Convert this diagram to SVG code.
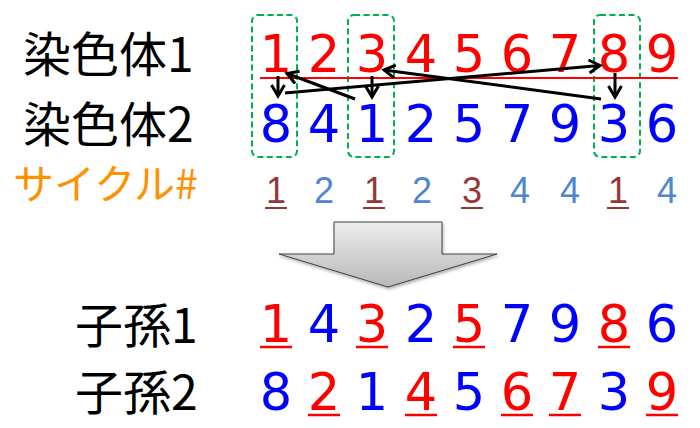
<svg xmlns="http://www.w3.org/2000/svg" width="700" height="428" viewBox="0 0 700 428">
<style>
.lbl{font-family:"Noto Sans CJK JP","Noto Sans",sans-serif;font-size:48px;fill:#000}
.cyc{font-family:"Noto Sans CJK JP","Noto Sans",sans-serif;font-size:41px;fill:#FF9000}
.d{font-family:"DejaVu Sans",sans-serif;font-size:51px;text-anchor:middle}
.r{fill:#FF0000}
.b{fill:#0000FF}
.c{font-family:"Liberation Sans",sans-serif;font-size:36px;text-anchor:middle}
.cr{fill:#953735}
.cb{fill:#4F86D2}
.ul{stroke:#FF0000;stroke-width:2.5}
.cul{stroke:#953735;stroke-width:2}
.box{fill:none;stroke:#00B050;stroke-width:2;stroke-dasharray:6,3.5}
.arr{fill:none;stroke:#000;stroke-width:3;marker-end:url(#ah)}
</style>
<defs>
<marker id="ah" markerUnits="userSpaceOnUse" viewBox="0 0 16 16" markerWidth="16" markerHeight="16" refX="13" refY="8" orient="auto">
<path d="M2,1.5 L13,8 L2,14.5" fill="none" stroke="#000" stroke-width="3"/>
</marker>
<linearGradient id="g" x1="0" y1="0" x2="0" y2="1">
<stop offset="0" stop-color="#EDEDED"/>
<stop offset="1" stop-color="#B8B8B8"/>
</linearGradient>
<filter id="sh" x="-10%" y="-10%" width="120%" height="130%">
<feDropShadow dx="1" dy="2" stdDeviation="1.5" flood-color="#000" flood-opacity="0.3"/>
</filter>
</defs>

<g id="labels">
<text class="lbl" x="23" y="72">染色体1</text>
<text class="lbl" x="23" y="142">染色体2</text>
<text class="cyc" x="13" y="199">サイクル#</text>
<text class="lbl" x="75" y="343">子孫1</text>
<text class="lbl" x="75" y="410">子孫2</text>
</g>

<g id="boxes">
<rect class="box" x="252" y="15" width="45" height="142" rx="6"/>
<rect class="box" x="348" y="15" width="46" height="142" rx="6"/>
<rect class="box" x="594" y="15" width="46" height="142" rx="6"/>
</g>

<line id="redline" x1="260" y1="78" x2="678" y2="78" stroke="#FF0000" stroke-width="2"/>

<g id="chromosome1">
<text class="d r" x="276" y="72">1</text>
<text class="d r" x="324" y="72">2</text>
<text class="d r" x="372" y="72">3</text>
<text class="d r" x="421" y="72">4</text>
<text class="d r" x="469" y="72">5</text>
<text class="d r" x="517" y="72">6</text>
<text class="d r" x="565" y="72">7</text>
<text class="d r" x="614" y="72">8</text>
<text class="d r" x="662" y="72">9</text>
</g>

<g id="chromosome2">
<text class="d b" x="276" y="142">8</text>
<text class="d b" x="324" y="142">4</text>
<text class="d b" x="372" y="142">1</text>
<text class="d b" x="421" y="142">2</text>
<text class="d b" x="469" y="142">5</text>
<text class="d b" x="517" y="142">7</text>
<text class="d b" x="565" y="142">9</text>
<text class="d b" x="614" y="142">3</text>
<text class="d b" x="662" y="142">6</text>
</g>

<g id="connectors">
<line class="arr" x1="278" y1="76" x2="278" y2="96"/>
<line class="arr" x1="372" y1="76" x2="372" y2="97"/>
<line class="arr" x1="615" y1="73" x2="615" y2="97"/>
<line class="arr" x1="355" y1="99" x2="287" y2="73.5"/>
<line class="arr" x1="601" y1="99" x2="384" y2="70"/>
<line class="arr" x1="285" y1="93" x2="600" y2="65.5"/>
</g>

<g id="cycles">
<text class="c cr" x="276" y="203">1</text>
<text class="c cb" x="324" y="203">2</text>
<text class="c cr" x="374" y="203">1</text>
<text class="c cb" x="422" y="203">2</text>
<text class="c cr" x="472" y="203">3</text>
<text class="c cb" x="520" y="203">4</text>
<text class="c cb" x="570" y="203">4</text>
<text class="c cr" x="618" y="203">1</text>
<text class="c cb" x="667" y="203">4</text>
<line class="cul" x1="265" y1="208" x2="287" y2="208"/>
<line class="cul" x1="363" y1="208" x2="385" y2="208"/>
<line class="cul" x1="461" y1="208" x2="483" y2="208"/>
<line class="cul" x1="607" y1="208" x2="629" y2="208"/>
</g>

<g id="bigarrow">
<polygon points="334,222 442,222 442,254 497,254 388,287 279,254 334,254" fill="url(#g)" stroke="#404040" stroke-width="1" filter="url(#sh)"/>
</g>

<g id="offspring1">
<text class="d r" x="276" y="342">1</text>
<text class="d b" x="324" y="342">4</text>
<text class="d r" x="372" y="342">3</text>
<text class="d b" x="421" y="342">2</text>
<text class="d r" x="469" y="342">5</text>
<text class="d b" x="517" y="342">7</text>
<text class="d b" x="565" y="342">9</text>
<text class="d r" x="614" y="342">8</text>
<text class="d b" x="662" y="342">6</text>
<line class="ul" x1="260" y1="347" x2="292" y2="347"/>
<line class="ul" x1="356" y1="347" x2="388" y2="347"/>
<line class="ul" x1="453" y1="347" x2="485" y2="347"/>
<line class="ul" x1="598" y1="347" x2="630" y2="347"/>
</g>

<g id="offspring2">
<text class="d b" x="276" y="410">8</text>
<text class="d r" x="324" y="410">2</text>
<text class="d b" x="372" y="410">1</text>
<text class="d r" x="421" y="410">4</text>
<text class="d b" x="469" y="410">5</text>
<text class="d r" x="517" y="410">6</text>
<text class="d r" x="565" y="410">7</text>
<text class="d b" x="614" y="410">3</text>
<text class="d r" x="662" y="410">9</text>
<line class="ul" x1="308" y1="415" x2="340" y2="415"/>
<line class="ul" x1="405" y1="415" x2="437" y2="415"/>
<line class="ul" x1="501" y1="415" x2="533" y2="415"/>
<line class="ul" x1="549" y1="415" x2="581" y2="415"/>
<line class="ul" x1="646" y1="415" x2="678" y2="415"/>
</g>
</svg>
